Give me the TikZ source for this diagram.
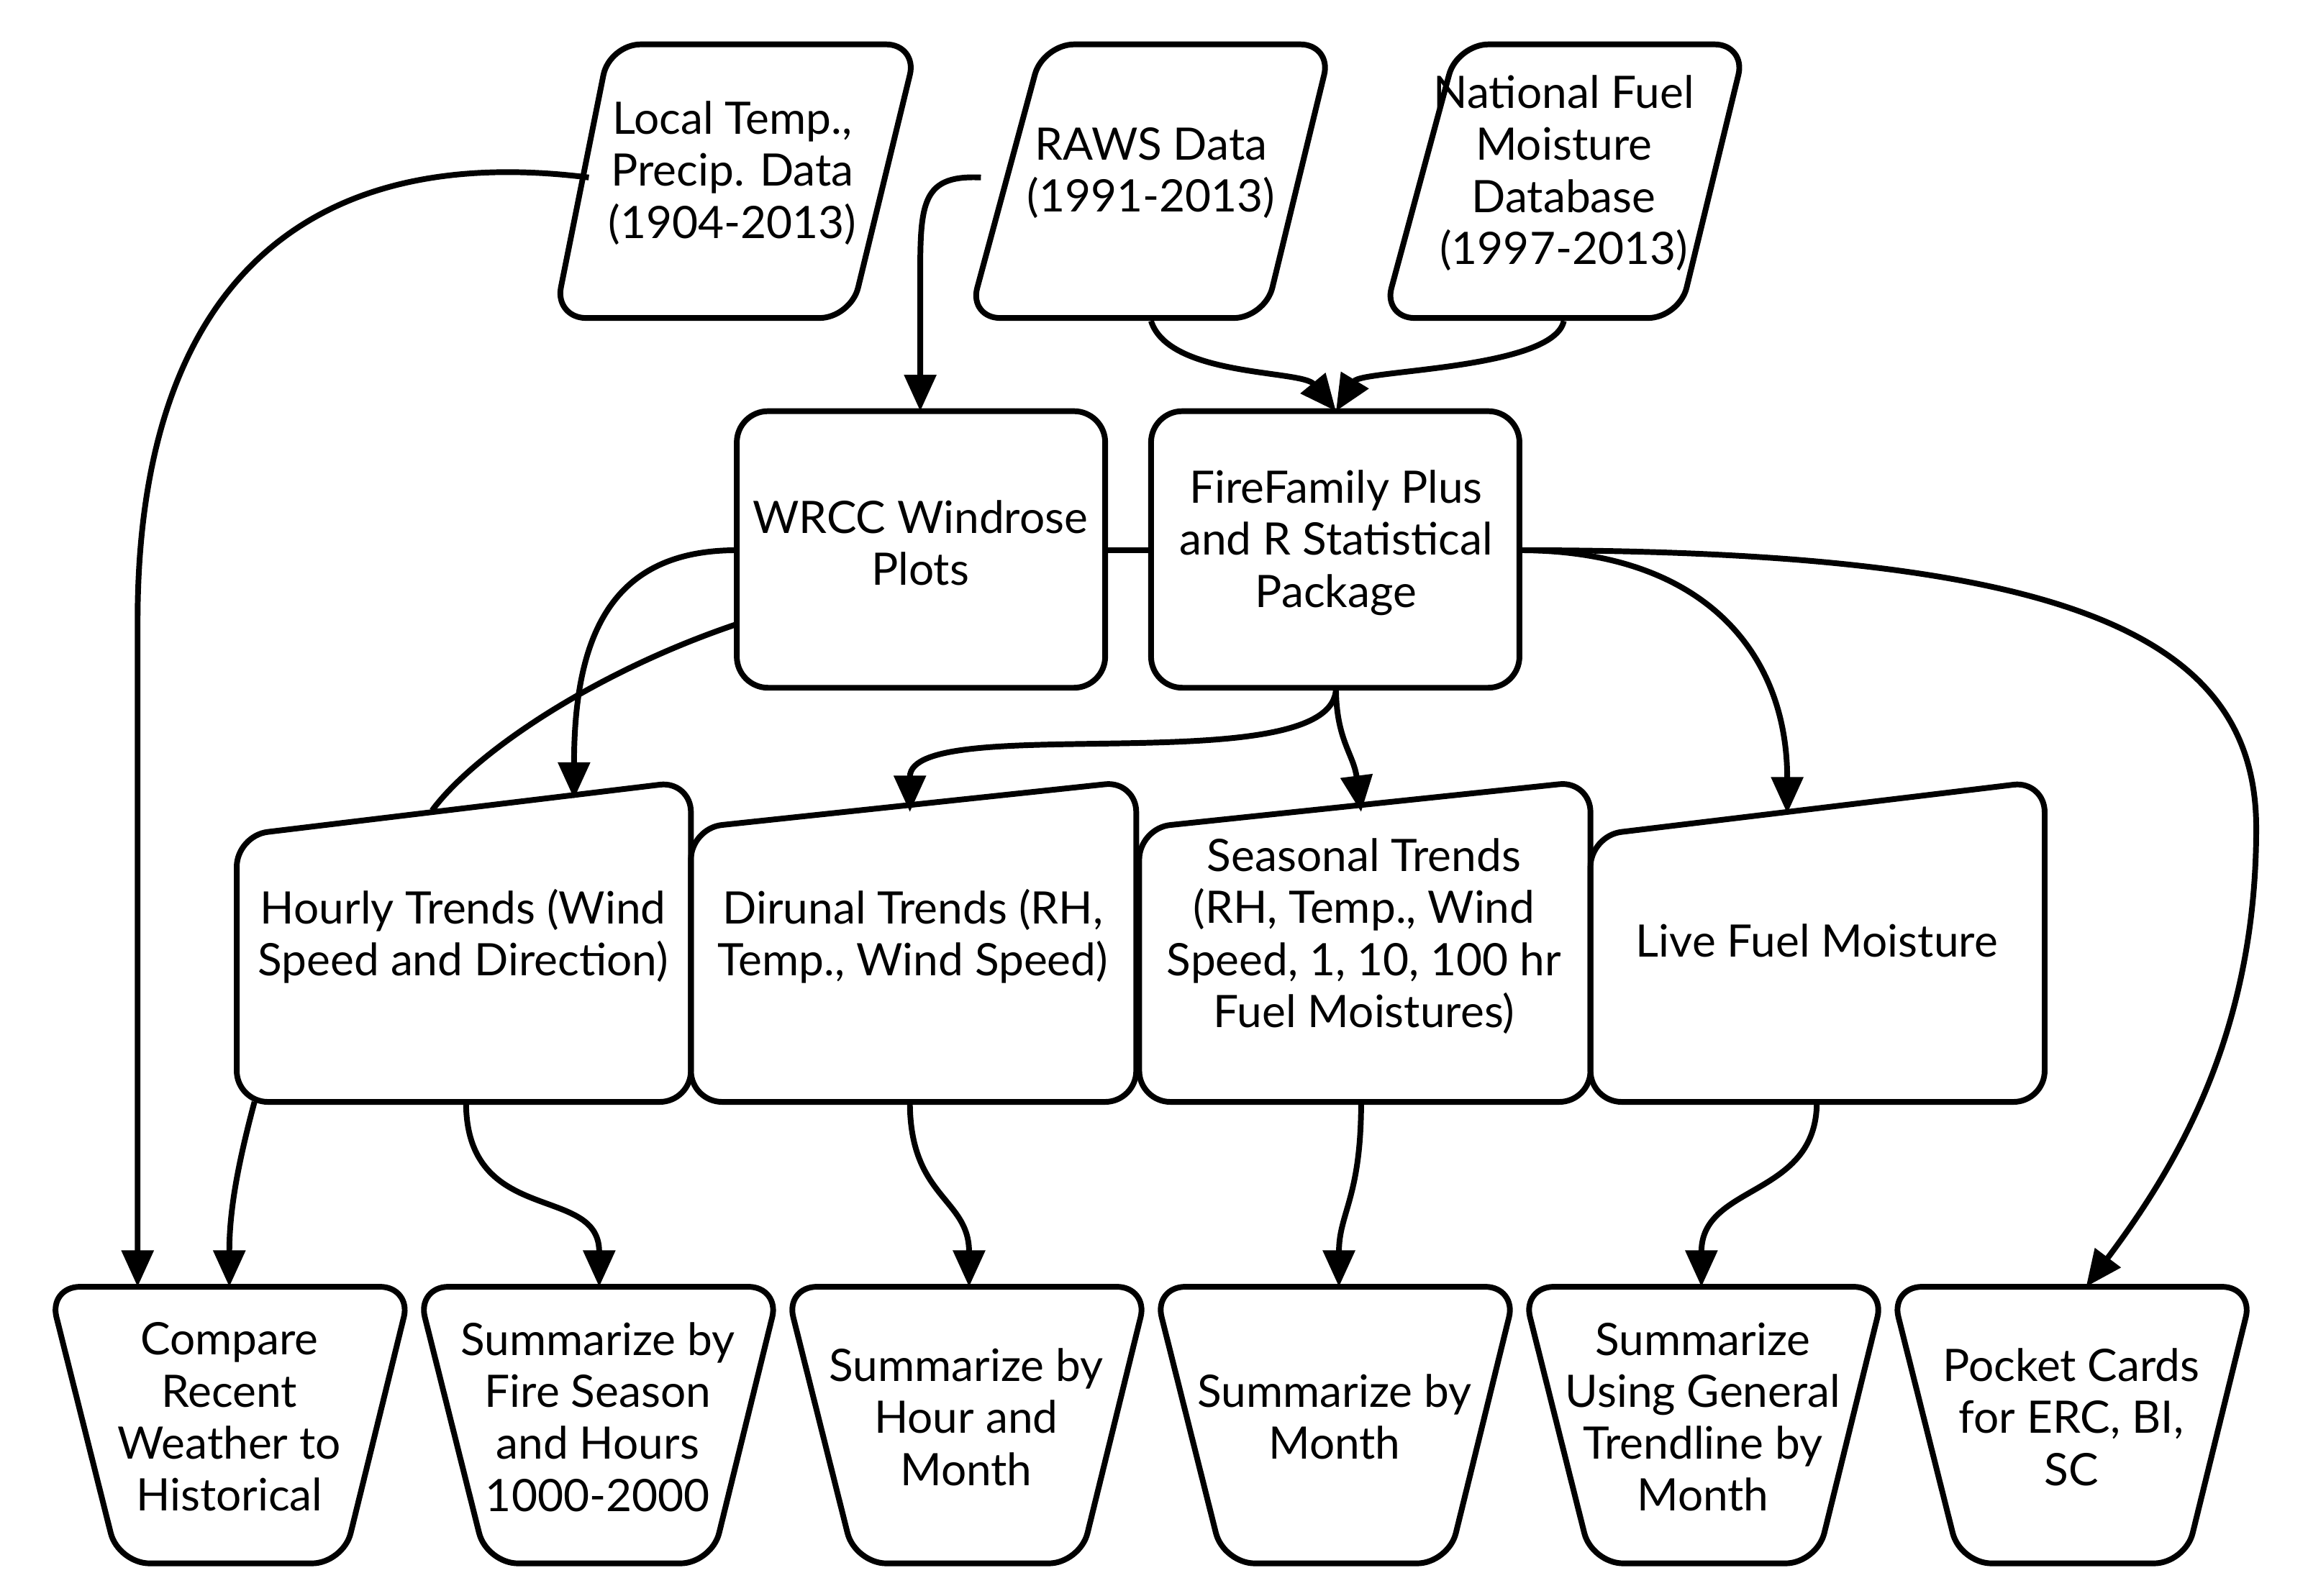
\documentclass[tikz,border=0pt]{standalone}
\usepackage{fontspec}
\setmainfont{Lato}
\usetikzlibrary{arrows.meta}
\begin{document}
\begin{tikzpicture}[x=0.01cm,y=-0.01cm,
  shp/.style={draw,line width=1.1pt,rounded corners=6pt,line join=round},
  txt/.style={align=center,font=\fontsize{8.6}{10}\selectfont},
  con/.style={line width=1.1pt},
  arr/.style={con,-{Triangle[length=7pt,width=6pt]}}]
\useasboundingbox (0,0) rectangle (1560,1079);
% data parallelograms
\draw[shp] (412,30)--(620,30)--(575,215)--(375,215)--cycle;
\node[txt] (lt) at (495,117) {Local Temp.,\\Precip. Data\\(1904-2013)};
\draw[shp] (705,30)--(900,30)--(855,215)--(655,215)--cycle;
\node[txt] (raws) at (778,117) {RAWS Data\\(1991-2013)};
\draw[shp] (985,30)--(1180,30)--(1135,215)--(935,215)--cycle;
\node[txt] (nfm) at (1057,117) {National Fuel\\Moisture\\Database\\(1997-2013)};
% rectangles
\draw[shp] (498,278) rectangle (747,465);
\node[txt] (wrcc) at (622,367) {WRCC Windrose\\Plots};
\draw[shp] (778,278) rectangle (1027,465);
\node[txt] (ff) at (903,367) {FireFamily Plus\\and R Statistical\\Package};
% manual input
\draw[shp] (160,565)--(467,528)--(467,745)--(160,745)--cycle;
\node[txt] (hr) at (313,633) {Hourly Trends (Wind\\Speed and Direction)};
\draw[shp] (467,560)--(768,528)--(768,745)--(467,745)--cycle;
\node[txt] (di) at (617,633) {Dirunal Trends (RH,\\Temp., Wind Speed)};
\draw[shp] (770,560)--(1075,528)--(1075,745)--(770,745)--cycle;
\node[txt] (se) at (922,633) {Seasonal Trends\\(RH, Temp., Wind\\Speed, 1, 10, 100 hr\\Fuel Moistures)};
\draw[shp] (1075,565)--(1382,528)--(1382,745)--(1075,745)--cycle;
\node[txt] (lf) at (1228,636) {Live Fuel Moisture};
% trapezoids
\foreach \x/\n/\t in {33/b1/{Compare\\Recent\\Weather to\\Historical},
  282/b2/{Summarize by\\Fire Season\\and Hours\\1000-2000},
  531/b3/{Summarize by\\Hour and\\Month},
  780/b4/{Summarize by\\Month},
  1029/b5/{Summarize\\Using General\\Trendline by\\Month},
  1278/b6/{Pocket Cards\\for ERC, BI,\\SC}}{
  \draw[shp] (\x,870)--(\x+245,870)--(\x+199,1057)--(\x+47,1057)--cycle;
  \node[txt] (\n) at (\x+122,958) {\t};}
% anchor coordinates
\coordinate (ltL) at (398,120);
\coordinate (b1T) at (93,870);
\coordinate (rawsL) at (663,120);
\coordinate (wrccT) at (622,278);
\coordinate (rawsB) at (778,217);
\coordinate (nfmB) at (1057,217);
\coordinate (ffT) at (903,278);
\coordinate (wrccL1) at (498,372);
\coordinate (wrccL2) at (498,422);
\coordinate (hrT1) at (388,540);
\coordinate (hrT2) at (292,548);
\coordinate (wrccR) at (747,372);
\coordinate (ffL) at (778,372);
\coordinate (ffB) at (903,465);
\coordinate (diT) at (615,549);
\coordinate (seT) at (920,549);
\coordinate (ffR) at (1027,372);
\coordinate (lfT) at (1208,550);
\coordinate (b6T) at (1410,870);
\coordinate (hrB1) at (172,745);
\coordinate (hrB2) at (315,745);
\coordinate (diB) at (615,745);
\coordinate (seB) at (920,745);
\coordinate (lfB) at (1228,745);
% connectors
\draw[arr] (ltL) .. controls (200,95) and (93,200) .. (93,420) -- (b1T);
\draw[arr] (rawsL) .. controls (620,118) and (622,140) .. (622,200) -- (wrccT);
\draw[arr] (rawsB) .. controls (790,255) and (880,250) .. (ffT);
\draw[arr] (nfmB) .. controls (1050,250) and (920,250) .. (ffT);
\draw[arr] (wrccL1) .. controls (420,372) and (388,420) .. (hrT1);
\draw[con] (wrccL2) .. controls (400,455) and (320,510) .. (hrT2);
\draw[con] (wrccR) -- (ffL);
\draw[arr] (ffB) .. controls (903,530) and (615,480) .. (diT);
\draw[arr] (ffB) .. controls (903,500) and (915,510) .. (seT);
\draw[arr] (ffR) .. controls (1150,372) and (1208,440) .. (lfT);
\draw[arr] (ffR) .. controls (1400,372) and (1525,430) .. (1525,560) .. controls (1525,700) and (1470,790) .. (b6T);
\draw[arr] (hrB1) .. controls (160,790) and (155,820) .. (155,870);
\draw[arr] (hrB2) .. controls (315,830) and (405,800) .. (405,870);
\draw[arr] (diB) .. controls (615,810) and (655,810) .. (655,870);
\draw[arr] (seB) .. controls (920,810) and (905,820) .. (905,870);
\draw[arr] (lfB) .. controls (1228,810) and (1150,800) .. (1150,870);
\end{tikzpicture}
\end{document}
